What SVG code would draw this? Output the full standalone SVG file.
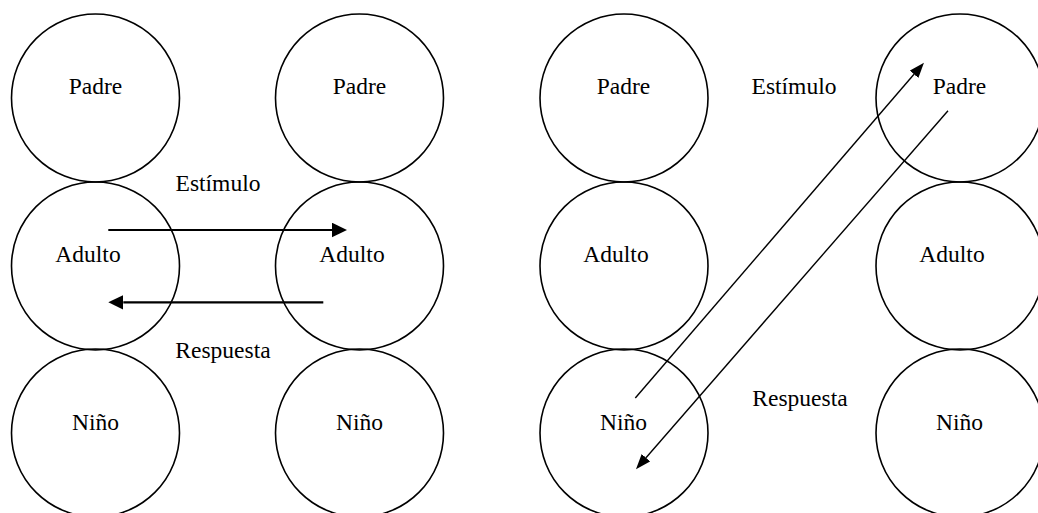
<svg xmlns="http://www.w3.org/2000/svg" width="1038" height="513" viewBox="0 0 1038 513">
<style>
.c{fill:none;stroke:#000;stroke-width:1.6}
text{font-family:'Liberation Serif','Times New Roman',Times,serif;font-size:23.5px;fill:#000;text-anchor:middle}
.thick{stroke:#000;stroke-width:2.2;fill:none}
.thin{stroke:#000;stroke-width:1.4;fill:none}
</style>
<defs>
<marker id="ah" markerUnits="userSpaceOnUse" markerWidth="16" markerHeight="16" refX="0" refY="7.3" orient="auto" viewBox="0 0 16 16"><path d="M0,0 L15,7.3 L0,14.6 z" fill="#000"/></marker>
<marker id="ad" markerUnits="userSpaceOnUse" markerWidth="16" markerHeight="13" refX="0" refY="5.7" orient="auto" viewBox="0 0 16 13"><path d="M0,0 L15.3,5.7 L0,11.4 z" fill="#000"/></marker>
</defs>
<rect width="1038" height="513" fill="#fff"/>
<g font-family="Liberation Serif, serif">
<g id="l-padre"><circle class="c" cx="95.5" cy="98" r="84"/><text x="95.5" y="94">Padre</text></g>
<g id="l-adulto"><circle class="c" cx="95.5" cy="266" r="84"/><text x="88" y="262">Adulto</text></g>
<g id="l-nino"><circle class="c" cx="95.5" cy="433" r="84"/><text x="95.5" y="430">Niño</text></g>
<g id="r1-padre"><circle class="c" cx="359.5" cy="98" r="84"/><text x="359.5" y="94">Padre</text></g>
<g id="r1-adulto"><circle class="c" cx="359.5" cy="266" r="84"/><text x="352" y="262">Adulto</text></g>
<g id="r1-nino"><circle class="c" cx="359.5" cy="433" r="84"/><text x="359.5" y="430">Niño</text></g>
<g id="l2-padre"><circle class="c" cx="624" cy="98" r="84"/><text x="623.5" y="94">Padre</text></g>
<g id="l2-adulto"><circle class="c" cx="624" cy="266" r="84"/><text x="616" y="262">Adulto</text></g>
<g id="l2-nino"><circle class="c" cx="624" cy="433" r="84"/><text x="623.5" y="430">Niño</text></g>
<g id="r2-padre"><circle class="c" cx="960" cy="98" r="84"/><text x="959.5" y="94">Padre</text></g>
<g id="r2-adulto"><circle class="c" cx="960" cy="266" r="84"/><text x="952" y="262">Adulto</text></g>
<g id="r2-nino"><circle class="c" cx="960" cy="433" r="84"/><text x="959.5" y="430">Niño</text></g>
<g id="labels">
<text x="218" y="190.5">Estímulo</text>
<text x="223" y="357.5">Respuesta</text>
<text x="794" y="94">Estímulo</text>
<text x="800" y="405.5">Respuesta</text>
</g>
</g>
<g id="connectors">
<line class="thick" x1="108.3" y1="230" x2="332" y2="230" marker-end="url(#ah)"/>
<line class="thick" x1="323.3" y1="302.3" x2="123.3" y2="302.3" marker-end="url(#ah)"/>
<line class="thin" x1="635.3" y1="398" x2="914" y2="74.3" marker-end="url(#ad)"/>
<line class="thin" x1="948" y1="110.7" x2="646" y2="457.7" marker-end="url(#ad)"/>
</g>
</svg>
